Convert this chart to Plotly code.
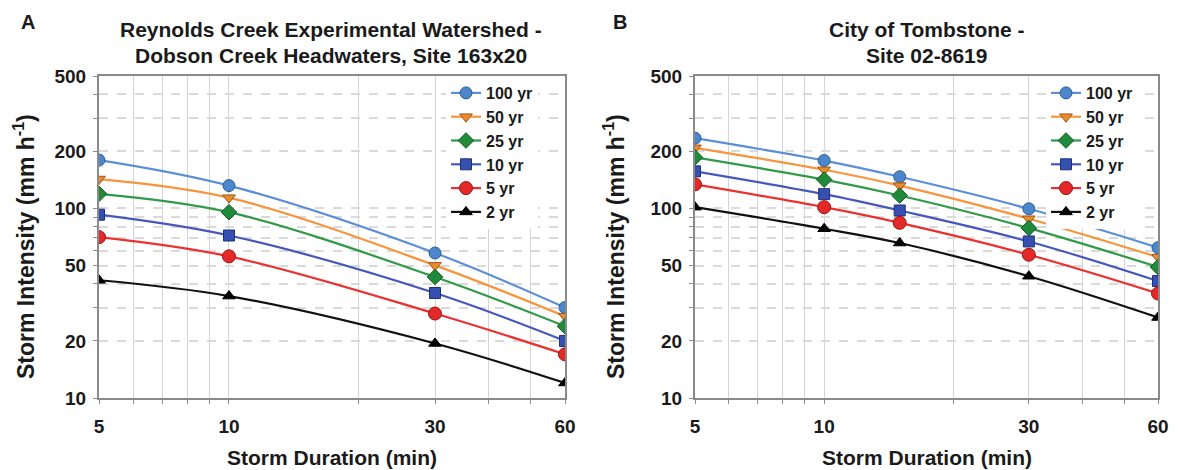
import plotly.graph_objects as go

# ---------------- data ----------------
series_names = ["100 yr", "50 yr", "25 yr", "10 yr", "5 yr", "2 yr"]

duration_a = [5, 10, 30, 60]
a_100yr = [180, 132, 58.2, 30.0]
a_50yr = [143, 114, 50.1, 27.0]
a_25yr = [119.5, 95.6, 43.5, 23.9]
a_10yr = [92.7, 72, 35.8, 20.0]
a_5yr = [70.6, 55.9, 27.9, 17.0]
a_2yr = [41.8, 34.5, 19.4, 12.0]

duration_b = [5, 10, 15, 30, 60]
b_100yr = [235, 179, 147, 99.6, 62.1]
b_50yr = [209, 160, 132, 88.3, 55.4]
b_25yr = [186, 142, 117, 78.8, 49.1]
b_10yr = [157, 119, 97.6, 67, 41.4]
b_5yr = [134, 101.6, 84, 57, 35.6]
b_2yr = [101.6, 78.2, 65.7, 43.9, 26.6]

x_tickvals = [5, 6, 7, 8, 9, 10, 20, 30, 40, 50, 60]
x_ticktext = ["5", "", "", "", "", "10", "", "30", "", "", "60"]
y_tickvals = [10, 20, 30, 40, 50, 60, 70, 80, 90, 100, 200, 300, 400, 500]
y_ticktext = ["10", "20", "", "", "50", "", "", "", "", "100", "200", "", "", "500"]

title_a = ["Reynolds Creek Experimental Watershed -", "Dobson Creek Headwaters, Site 163x20"]
title_b = ["City of Tombstone -", "Site 02-8619"]
x_title = "Storm Duration (min)"
y_title = "Storm Intensity (mm h<sup>-1</sup>)"

# ---------------- styles ----------------
line_colors = ["#5b8ed6", "#f7943c", "#2f9a47", "#4557bd", "#ec3030", "#111111"]
marker_fill = ["#4c86cc", "#ee8a2e", "#1f8a3a", "#3550b0", "#e52828", "#000000"]
marker_line = ["#2f5d92", "#9a5417", "#145a25", "#1f2f78", "#9a1515", "#000000"]
symbols = ["circle", "triangle-down", "diamond", "square", "circle", "triangle-up"]
msizes = [12, 11, 12, 11, 13, 11]

FONT = "Liberation Sans, Arial, sans-serif"
TXT = "#1a1a1a"

fig = go.Figure()

panels = [
    (duration_a, [a_100yr, a_50yr, a_25yr, a_10yr, a_5yr, a_2yr], "x", "y", "legend"),
    (duration_b, [b_100yr, b_50yr, b_25yr, b_10yr, b_5yr, b_2yr], "x2", "y2", "legend2"),
]
for xs, ys_list, xa, ya, lg in panels:
    for i, ys in enumerate(ys_list):
        fig.add_trace(go.Scatter(
            x=xs, y=ys, name=series_names[i], mode="lines+markers",
            xaxis=xa, yaxis=ya, legend=lg,
            line=dict(color=line_colors[i], width=2.2, shape="spline", smoothing=1.0),
            marker=dict(symbol=symbols[i], size=msizes[i], color=marker_fill[i],
                        line=dict(color=marker_line[i], width=1)),
        ))

H = 470.0
W = 1186.0
y_dom = [1 - 398 / H, 1 - 76 / H]
xa_dom = [99 / W, 565 / W]
xb_dom = [695 / W, 1158 / W]

tick_font = dict(family=FONT, size=19, color=TXT, weight="bold")

def xaxis(domain, anchor):
    return dict(
        type="log", domain=domain, anchor=anchor, range=[0.69897, 1.778151],
        tickvals=x_tickvals, ticktext=x_ticktext, tickfont=tick_font,
        showgrid=True, gridcolor="#d4d4d4", gridwidth=1,
        showline=True, linecolor="#8a8a8a", linewidth=2, mirror=True,
        ticks="outside", ticklen=4, tickcolor="#8a8a8a", ticklabelstandoff=6,
        zeroline=False, fixedrange=True, automargin=False,
    )

def yaxis(anchor):
    return dict(
        type="log", domain=y_dom, anchor=anchor, range=[1, 2.69897],
        tickvals=y_tickvals, ticktext=y_ticktext, tickfont=tick_font,
        showgrid=True, gridcolor="#dadada", gridwidth=1.5, griddash="dash",
        showline=True, linecolor="#8a8a8a", linewidth=2, mirror=True,
        ticks="outside", ticklen=4, tickcolor="#8a8a8a", ticklabelstandoff=3,
        zeroline=False, fixedrange=True, automargin=False,
    )

legend_common = dict(
    bgcolor="white", borderwidth=0, xanchor="left", yanchor="top",
    font=dict(family=FONT, size=16, color=TXT, weight="bold"),
    itemwidth=30, tracegroupgap=0,
)

annotations = []
def add_text(x, y, text, size, xanchor="center", angle=0):
    annotations.append(dict(
        x=x / W, y=1 - y / H, xref="paper", yref="paper", text=text, showarrow=False,
        xanchor=xanchor, yanchor="middle", textangle=angle,
        font=dict(family=FONT, size=size, color=TXT, weight="bold"),
    ))

add_text(28, 22, "A", 20)
add_text(620, 22, "B", 20)
add_text(331, 29, title_a[0], 21)
add_text(331, 55, title_a[1], 21)
add_text(927, 29, title_b[0], 21)
add_text(927, 55, title_b[1], 21)
add_text(332, 457, x_title, 21)
add_text(927, 457, x_title, 21)
add_text(24, 247, y_title, 23, angle=-90)
add_text(614, 247, y_title, 23, angle=-90)

fig.update_layout(
    width=1186, height=470,
    margin=dict(l=0, r=0, t=0, b=0),
    paper_bgcolor="white", plot_bgcolor="white",
    showlegend=True,
    xaxis=xaxis(xa_dom, "y"),
    yaxis=yaxis("x"),
    xaxis2=xaxis(xb_dom, "y2"),
    yaxis2=yaxis("x2"),
    legend=dict(x=446 / W, y=1 - 76 / H, **legend_common),
    legend2=dict(x=1046 / W, y=1 - 76 / H, **legend_common),
    annotations=annotations,
)

fig.write_html(
    "out.html",
    config={"displayModeBar": False},
    post_script="document.body.style.margin='0';document.body.style.overflow='hidden';",
)
